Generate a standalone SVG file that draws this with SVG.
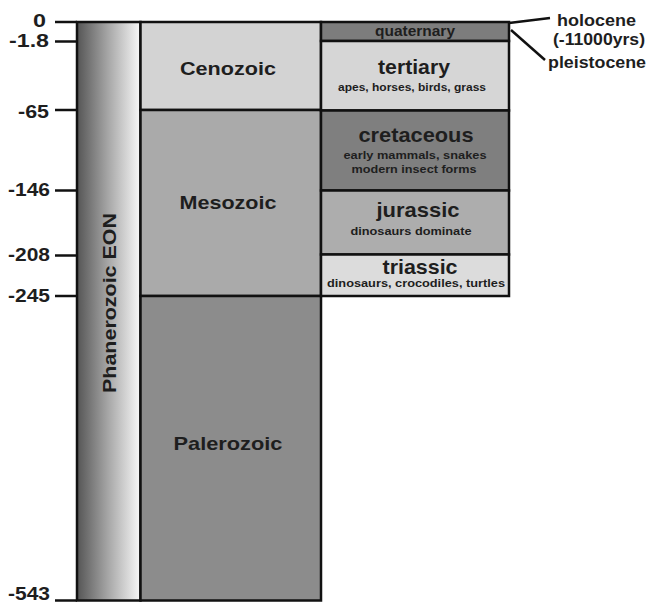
<svg xmlns="http://www.w3.org/2000/svg" width="649" height="605" viewBox="0 0 649 605">
<defs>
<linearGradient id="eon" x1="0" y1="0" x2="1" y2="0">
<stop offset="0" stop-color="#555555"/>
<stop offset="0.5" stop-color="#a8a8a8"/>
<stop offset="1" stop-color="#f8f8f8"/>
</linearGradient>
</defs>
<style>
text{font-family:"Liberation Sans",Arial,sans-serif;font-weight:bold;fill:#1e1e1e;}
.box{stroke:#111;stroke-width:2.5;}
.tick{stroke:#111;stroke-width:2.5;fill:none;}
.lbl{font-size:18px;text-anchor:end;}
.era{font-size:19px;text-anchor:middle;}
.per{font-size:21px;text-anchor:middle;}
.sub{font-size:11px;text-anchor:middle;}
.ep{font-size:16px;}
</style>
<rect width="649" height="605" fill="#ffffff"/>
<g id="axis">
<line class="tick" x1="55" y1="22" x2="77" y2="22"/>
<line class="tick" x1="55" y1="41.5" x2="77" y2="41.5"/>
<line class="tick" x1="55" y1="110" x2="77" y2="110"/>
<line class="tick" x1="55" y1="190.5" x2="77" y2="190.5"/>
<line class="tick" x1="55" y1="255.5" x2="77" y2="255.5"/>
<line class="tick" x1="55" y1="296" x2="77" y2="296"/>
<line class="tick" x1="55" y1="600.5" x2="77" y2="600.5"/>
<text class="lbl" x="46" y="27" textLength="13" lengthAdjust="spacingAndGlyphs">0</text>
<text class="lbl" x="49" y="47" textLength="40" lengthAdjust="spacingAndGlyphs">-1.8</text>
<text class="lbl" x="49" y="118" textLength="31" lengthAdjust="spacingAndGlyphs">-65</text>
<text class="lbl" x="50" y="196" textLength="42" lengthAdjust="spacingAndGlyphs">-146</text>
<text class="lbl" x="50" y="261" textLength="42" lengthAdjust="spacingAndGlyphs">-208</text>
<text class="lbl" x="50" y="302" textLength="42" lengthAdjust="spacingAndGlyphs">-245</text>
<text class="lbl" x="50" y="600" font-size="17" textLength="42" lengthAdjust="spacingAndGlyphs">-543</text>
</g>
<g id="eon-node">
<rect class="box" x="77" y="22" width="63.5" height="578.5" fill="url(#eon)"/>
<text font-size="18" text-anchor="middle" transform="translate(116,303) rotate(-90)" textLength="180" lengthAdjust="spacingAndGlyphs">Phanerozoic EON</text>
</g>
<g id="cenozoic">
<rect class="box" x="140.5" y="22" width="180.5" height="88" fill="#d3d3d3"/>
<text class="era" x="228" y="75" textLength="96" lengthAdjust="spacingAndGlyphs">Cenozoic</text>
</g>
<g id="mesozoic">
<rect class="box" x="140.5" y="110" width="180.5" height="186" fill="#aaaaaa"/>
<text class="era" x="228" y="209" textLength="97" lengthAdjust="spacingAndGlyphs">Mesozoic</text>
</g>
<g id="palerozoic">
<rect class="box" x="140.5" y="296" width="180.5" height="304.5" fill="#8c8c8c"/>
<text class="era" x="228" y="450" textLength="109" lengthAdjust="spacingAndGlyphs">Palerozoic</text>
</g>
<g id="quaternary">
<rect class="box" x="321" y="22" width="188" height="19" fill="#7d7d7d"/>
<text x="415" y="36" font-size="15" text-anchor="middle" textLength="80" lengthAdjust="spacingAndGlyphs">quaternary</text>
</g>
<g id="tertiary">
<rect class="box" x="321" y="41" width="188" height="69.5" fill="#d6d6d6"/>
<text class="per" x="414" y="74" textLength="72" lengthAdjust="spacingAndGlyphs">tertiary</text>
<text class="sub" x="412" y="91" textLength="148" lengthAdjust="spacingAndGlyphs">apes, horses, birds, grass</text>
</g>
<g id="cretaceous">
<rect class="box" x="321" y="110.5" width="188" height="80" fill="#7f7f7f"/>
<text class="per" x="416" y="142" textLength="115" lengthAdjust="spacingAndGlyphs">cretaceous</text>
<text class="sub" x="415" y="159" textLength="143" lengthAdjust="spacingAndGlyphs">early mammals, snakes</text>
<text class="sub" x="414" y="173" textLength="125" lengthAdjust="spacingAndGlyphs">modern insect forms</text>
</g>
<g id="jurassic">
<rect class="box" x="321" y="190.5" width="188" height="64" fill="#adadad"/>
<text class="per" x="418" y="217" textLength="83" lengthAdjust="spacingAndGlyphs">jurassic</text>
<text class="sub" x="411" y="235" textLength="121" lengthAdjust="spacingAndGlyphs">dinosaurs dominate</text>
</g>
<g id="triassic">
<rect class="box" x="321" y="254.5" width="188" height="41.5" fill="#dcdcdc"/>
<text class="per" x="420" y="274" textLength="75" lengthAdjust="spacingAndGlyphs">triassic</text>
<text class="sub" x="416" y="287" textLength="178" lengthAdjust="spacingAndGlyphs">dinosaurs, crocodiles, turtles</text>
</g>
<g id="connectors">
<line class="tick" x1="509" y1="23" x2="550" y2="18"/>
<line class="tick" x1="511" y1="30" x2="545" y2="60"/>
</g>
<g id="holocene">
<text class="ep" x="557" y="26" textLength="79" lengthAdjust="spacingAndGlyphs">holocene</text>
<text class="ep" x="553" y="45" textLength="92" lengthAdjust="spacingAndGlyphs">(-11000yrs)</text>
</g>
<g id="pleistocene">
<text class="ep" x="548" y="68" textLength="98" lengthAdjust="spacingAndGlyphs">pleistocene</text>
</g>
</svg>
